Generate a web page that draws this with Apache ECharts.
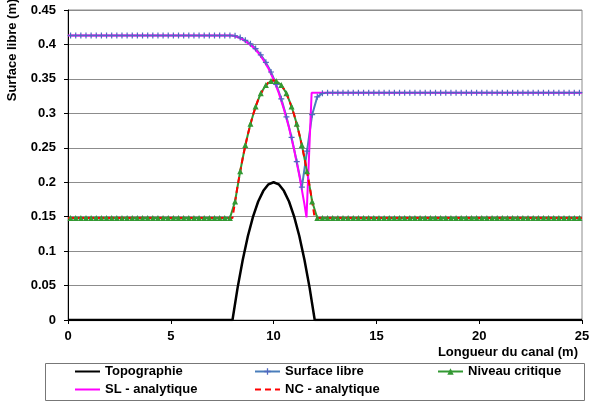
<!DOCTYPE html>
<html>
<head>
<meta charset="utf-8">
<script src="https://cdn.jsdelivr.net/npm/echarts@6/dist/echarts.min.js"></script>
<style>
  html, body { margin: 0; padding: 0; background: #fff; }
  #view { width: 595px; height: 402px; }
</style>
</head>
<body>
<div id="view"></div>
<script>
// numerical scheme, cell centers
var xNum = [
  0.125,0.375,0.625,0.875, 1.125,1.375,1.625,1.875, 2.125,2.375,2.625,2.875, 3.125,3.375,3.625,3.875,
  4.125,4.375,4.625,4.875, 5.125,5.375,5.625,5.875, 6.125,6.375,6.625,6.875, 7.125,7.375,7.625,7.875,
  8.125,8.375,8.625,8.875, 9.125,9.375,9.625,9.875, 10.125,10.375,10.625,10.875, 11.125,11.375,11.625,11.875,
  12.125,12.375,12.625,12.875, 13.125,13.375,13.625,13.875, 14.125,14.375,14.625,14.875, 15.125,15.375,15.625,15.875,
  16.125,16.375,16.625,16.875, 17.125,17.375,17.625,17.875, 18.125,18.375,18.625,18.875, 19.125,19.375,19.625,19.875,
  20.125,20.375,20.625,20.875, 21.125,21.375,21.625,21.875, 22.125,22.375,22.625,22.875, 23.125,23.375,23.625,23.875,
  24.125,24.375,24.625,24.875
];
var surfNum = [
  0.413,0.413,0.413,0.413,0.413,0.413,0.413,0.413,0.413,0.413,0.413,0.413,0.413,0.413,0.413,0.413,
  0.413,0.413,0.413,0.413,0.413,0.413,0.413,0.413,0.413,0.413,0.413,0.413,0.413,0.413,0.413,0.413,
  0.4125,0.410,0.406,0.401,0.394,0.385,0.374,0.360,0.342,0.321,0.295,0.265,0.230,0.193,0.245,0.298,
  0.324,0.329,0.33,0.33,0.33,0.33,0.33,0.33,0.33,0.33,0.33,0.33,0.33,0.33,0.33,0.33,
  0.33,0.33,0.33,0.33,0.33,0.33,0.33,0.33,0.33,0.33,0.33,0.33,0.33,0.33,0.33,0.33,
  0.33,0.33,0.33,0.33,0.33,0.33,0.33,0.33,0.33,0.33,0.33,0.33,0.33,0.33,0.33,0.33,
  0.33,0.33,0.33,0.33
];
var critNum = [
  0.148,0.148,0.148,0.148,0.148,0.148,0.148,0.148,0.148,0.148,0.148,0.148,0.148,0.148,0.148,0.148,
  0.148,0.148,0.148,0.148,0.148,0.148,0.148,0.148,0.148,0.148,0.148,0.148,0.148,0.148,0.148,0.148,
  0.172,0.216,0.254,0.285,0.310,0.329,0.341,0.347,0.347,0.341,0.329,0.310,0.285,0.254,0.216,0.172,
  0.148,0.148,0.148,0.148,0.148,0.148,0.148,0.148,0.148,0.148,0.148,0.148,0.148,0.148,0.148,0.148,
  0.148,0.148,0.148,0.148,0.148,0.148,0.148,0.148,0.148,0.148,0.148,0.148,0.148,0.148,0.148,0.148,
  0.148,0.148,0.148,0.148,0.148,0.148,0.148,0.148,0.148,0.148,0.148,0.148,0.148,0.148,0.148,0.148,
  0.148,0.148,0.148,0.148
];

// analytic solution + bump
var xBump = [0, 8, 8.25, 8.5, 8.75, 9, 9.25, 9.5, 9.75, 10, 10.25, 10.5, 10.75, 11, 11.25, 11.5, 11.75, 12, 25];
var topo  = [0, 0, 0.047, 0.0875, 0.122, 0.15, 0.172, 0.1875, 0.197, 0.2, 0.197, 0.1875, 0.172, 0.15, 0.122, 0.0875, 0.047, 0, 0];
var ncAna = [0.148, 0.148, 0.195, 0.2355, 0.27, 0.298, 0.32, 0.3355, 0.345, 0.348, 0.345, 0.3355, 0.32, 0.298, 0.27, 0.2355, 0.195, 0.148, 0.148];

var xSL   = [0, 8, 8.25, 8.5, 8.75, 9, 9.25, 9.5, 9.75, 10, 10.25, 10.5, 10.75, 11, 11.25, 11.5, 11.6, 11.85, 25];
var slAna = [0.413, 0.413, 0.4105, 0.407, 0.402, 0.396, 0.388, 0.3775, 0.365, 0.349, 0.3295, 0.306, 0.279, 0.2467, 0.21, 0.168, 0.149, 0.33, 0.33];

var xTicks = [0, 5, 10, 15, 20, 25];
var yTickStep = 0.05;

function zip(xs, ys) {
  return xs.map(function(x, i) { return [x, ys[i]]; });
}

var FONT = 'Liberation Sans, Arial, sans-serif';
var plus = 'path://M4,0H6V4H10V6H6V10H4V6H0V4H4Z';

var chart = echarts.init(document.getElementById('view'));
var legendText = {fontFamily: FONT, fontWeight: 'bold', fontSize: 13, color: '#000'};
var legendBase = {orient: 'vertical', top: 365, itemGap: 5, itemWidth: 25, itemHeight: 8,
                  padding: 0, selectedMode: false, textStyle: legendText};
var noMark = {opacity: 0};

chart.setOption({
  animation: false,
  grid: {left: 68, right: 13, top: 10, bottom: 82, show: true, borderColor: '#8c8c8c', borderWidth: 1},
  xAxis: {
    type: 'value', min: xTicks[0], max: xTicks[xTicks.length - 1], interval: 5,
    axisLine: {show: true, onZero: false, lineStyle: {color: '#000', width: 1}},
    axisTick: {show: true, length: 4, lineStyle: {color: '#000'}},
    axisLabel: {margin: 10, fontFamily: FONT, fontWeight: 'bold', fontSize: 13, color: '#000'},
    splitLine: {show: false}
  },
  yAxis: {
    type: 'value', min: 0, max: 0.45, interval: yTickStep,
    axisLine: {show: true, lineStyle: {color: '#000', width: 1}},
    axisTick: {show: true, length: 4, lineStyle: {color: '#000'}},
    axisLabel: {margin: 12, fontFamily: FONT, fontWeight: 'bold', fontSize: 13, color: '#000'},
    splitLine: {show: true, lineStyle: {color: '#8c8c8c', width: 1}}
  },
  legend: [
    Object.assign({}, legendBase, {left: 74, data: [
      {name: 'Topographie', itemStyle: noMark},
      {name: 'SL - analytique', itemStyle: noMark}]}),
    Object.assign({}, legendBase, {left: 254, data: [
      'Surface libre',
      {name: 'NC - analytique', itemStyle: noMark}]}),
    Object.assign({}, legendBase, {left: 437, data: ['Niveau critique']})
  ],
  graphic: [
    {type: 'rect', shape: {x: 45.5, y: 363.5, width: 539, height: 37},
     style: {fill: 'none', stroke: '#777', lineWidth: 1}, silent: true},
    {type: 'text', x: 12, y: 50, rotation: Math.PI / 2,
     style: {text: 'Surface libre (m)', font: 'bold 13px ' + FONT, fill: '#000',
             textAlign: 'center', textVerticalAlign: 'middle'}},
    {type: 'text', x: 578, y: 352,
     style: {text: 'Longueur du canal (m)', font: 'bold 13px ' + FONT, fill: '#000',
             textAlign: 'right', textVerticalAlign: 'middle'}}
  ],
  series: [
    {name: 'Topographie', type: 'line', data: zip(xBump, topo), showSymbol: false, symbol: 'none',
     lineStyle: {color: '#000', width: 2.5}, itemStyle: {color: '#000'}},
    {name: 'Surface libre', type: 'line', data: zip(xNum, surfNum), symbol: plus, symbolSize: 6,
     lineStyle: {color: '#4A7EBB', width: 2}, itemStyle: {color: '#5068C0'}},
    {name: 'Niveau critique', type: 'line', data: zip(xNum, critNum), symbol: 'triangle', symbolSize: 6,
     lineStyle: {color: '#339933', width: 2}, itemStyle: {color: '#339933'}},
    {name: 'SL - analytique', type: 'line', data: zip(xSL, slAna), symbol: 'none',
     lineStyle: {color: '#FF00FF', width: 2}, itemStyle: {color: '#FF00FF'}},
    {name: 'NC - analytique', type: 'line', data: zip(xBump, ncAna), symbol: 'none',
     lineStyle: {color: '#FF0000', width: 2, type: [6, 4]}, itemStyle: {color: '#FF0000'}}
  ]
});
</script>
</body>
</html>
